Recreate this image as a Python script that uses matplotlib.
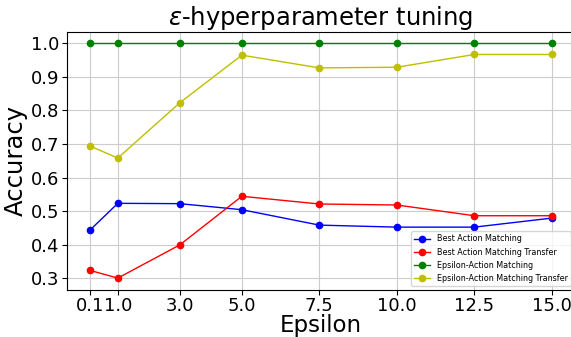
import matplotlib
matplotlib.use("Agg")
import matplotlib.pyplot as plt

epsilons = [0.1, 1.0, 3.0, 5.0, 7.5, 10.0, 12.5, 15.0]
best_action = [0.443, 0.523, 0.522, 0.504, 0.458, 0.452, 0.452, 0.479]
best_action_transfer = [0.323, 0.300, 0.399, 0.544, 0.521, 0.518, 0.486, 0.486]
eps_action = [1.0, 1.0, 1.0, 1.0, 1.0, 1.0, 1.0, 1.0]
eps_action_transfer = [0.694, 0.658, 0.823, 0.965, 0.927, 0.929, 0.967, 0.967]
yticks = [0.3, 0.4, 0.5, 0.6, 0.7, 0.8, 0.9, 1.0]

fig, ax = plt.subplots(figsize=(5.71, 3.37), dpi=100)
ax.plot(epsilons, best_action, "o-", color="b", markersize=4.5, linewidth=1, label="Best Action Matching")
ax.plot(epsilons, best_action_transfer, "o-", color="r", markersize=4.5, linewidth=1, label="Best Action Matching Transfer")
ax.plot(epsilons, eps_action, "o-", color="g", markersize=4.5, linewidth=1, label="Epsilon-Action Matching")
ax.plot(epsilons, eps_action_transfer, "o-", color="y", markersize=4.5, linewidth=1, label="Epsilon-Action Matching Transfer")

ax.set_xticks(epsilons)
ax.set_xticklabels([str(e) for e in epsilons])
ax.set_yticks(yticks)
ax.tick_params(labelsize=13, pad=2)
ax.tick_params(axis="x", pad=1.5)
ax.set_xlabel("Epsilon", fontsize=16.5, labelpad=-0.5)
ax.set_ylabel("Accuracy", fontsize=17.5, labelpad=2)
ax.set_title(r"$\epsilon$-hyperparameter tuning", fontsize=17.5, pad=3)
ax.grid(True, color="#cccccc")
ax.legend(fontsize=5.8, loc="lower right")
fig.subplots_adjust(left=0.117, right=1.007, top=0.906, bottom=0.14)
fig.savefig("out.png")
